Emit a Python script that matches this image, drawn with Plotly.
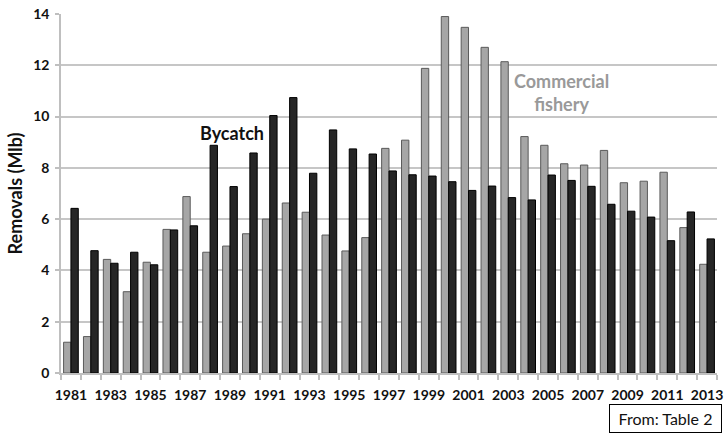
import plotly.graph_objects as go

years = list(range(1981, 2014))
commercial = [1.20, 1.42, 4.43, 3.17, 4.32, 5.60, 6.88, 4.71, 4.95, 5.43,
              6.00, 6.63, 6.27, 5.38, 4.76, 5.28, 8.76, 9.08, 11.88, 13.90,
              13.48, 12.70, 12.14, 9.22, 8.88, 8.16, 8.11, 8.68, 7.42, 7.48,
              7.83, 5.67, 4.24]
bycatch = [6.42, 4.77, 4.28, 4.71, 4.22, 5.58, 5.74, 8.88, 7.27, 8.58,
           10.04, 10.74, 7.79, 9.48, 8.74, 8.54, 7.88, 7.73, 7.68, 7.46,
           7.12, 7.29, 6.84, 6.75, 7.72, 7.51, 7.28, 6.58, 6.31, 6.08,
           5.16, 6.28, 5.23]
tick_years = years[::2]
y_ticks = [0, 2, 4, 6, 8, 10, 12, 14]

FONT = "Lato"
AXIS_GREY = "#bfbfbf"

fig = go.Figure()

fig.add_trace(go.Bar(
    x=years, y=commercial, name="Commercial fishery",
    marker=dict(color="#a6a6a6", line=dict(color="#5a5a5a", width=1)),
))
fig.add_trace(go.Bar(
    x=years, y=bycatch, name="Bycatch",
    marker=dict(color="#262626", line=dict(color="#000000", width=1)),
))

fig.add_annotation(x=1989.1, y=9.36, xref="x", yref="y", text="<b>Bycatch</b>",
                   showarrow=False, font=dict(family=FONT, size=18, color="#111111"))
fig.add_annotation(x=2005.7, y=10.94, xref="x", yref="y",
                   text="<b>Commercial<br>fishery</b>",
                   showarrow=False, font=dict(family=FONT, size=18, color="#999999"))
fig.add_annotation(x=0.9215, y=-0.127, xref="paper", yref="paper",
                   xanchor="center", yanchor="middle",
                   text="From: Table 2", showarrow=False,
                   width=105, height=21, borderpad=3,
                   bordercolor="#000000", borderwidth=1, bgcolor="white",
                   font=dict(family=FONT, size=16, color="#111111"))

fig.update_layout(
    width=726, height=434,
    paper_bgcolor="white", plot_bgcolor="white",
    margin=dict(l=61, r=9, t=14, b=61, autoexpand=False),
    barmode="group", bargap=0.26, bargroupgap=0,
    showlegend=False,
    font=dict(family=FONT, color="#111111"),
    xaxis=dict(
        range=[1980.5, 2013.5],
        tickvals=tick_years,
        ticktext=[str(y) for y in tick_years],
        ticks="outside", ticklen=8, tickcolor="rgba(0,0,0,0)",
        tickfont=dict(family=FONT, size=14, color="#111111", weight="bold"),
        showgrid=False, zeroline=False,
        showline=True, linecolor=AXIS_GREY, linewidth=1.5,
        minor=dict(tick0=1980.5, dtick=1, ticks="outside", ticklen=5,
                   tickcolor=AXIS_GREY, tickwidth=1.5, showgrid=False),
    ),
    yaxis=dict(
        range=[0, 14],
        tickvals=y_ticks,
        ticks="outside", ticklen=4, tickcolor=AXIS_GREY, tickwidth=1.5,
        ticklabelstandoff=3,
        tickfont=dict(family=FONT, size=14, color="#111111", weight="bold"),
        showgrid=True, gridcolor="#c6c6c6", gridwidth=1.5,
        zeroline=False,
        showline=True, linecolor=AXIS_GREY, linewidth=1.5,
        title=dict(text="<b>Removals (Mlb)</b>", standoff=6,
                   font=dict(family=FONT, size=18, color="#111111")),
    ),
)

# the page's default body margin would shift the chart by 8px
fig.write_html("out.html", config={"displayModeBar": False},
               post_script="document.body.style.margin='0';document.body.style.overflow='hidden';")
